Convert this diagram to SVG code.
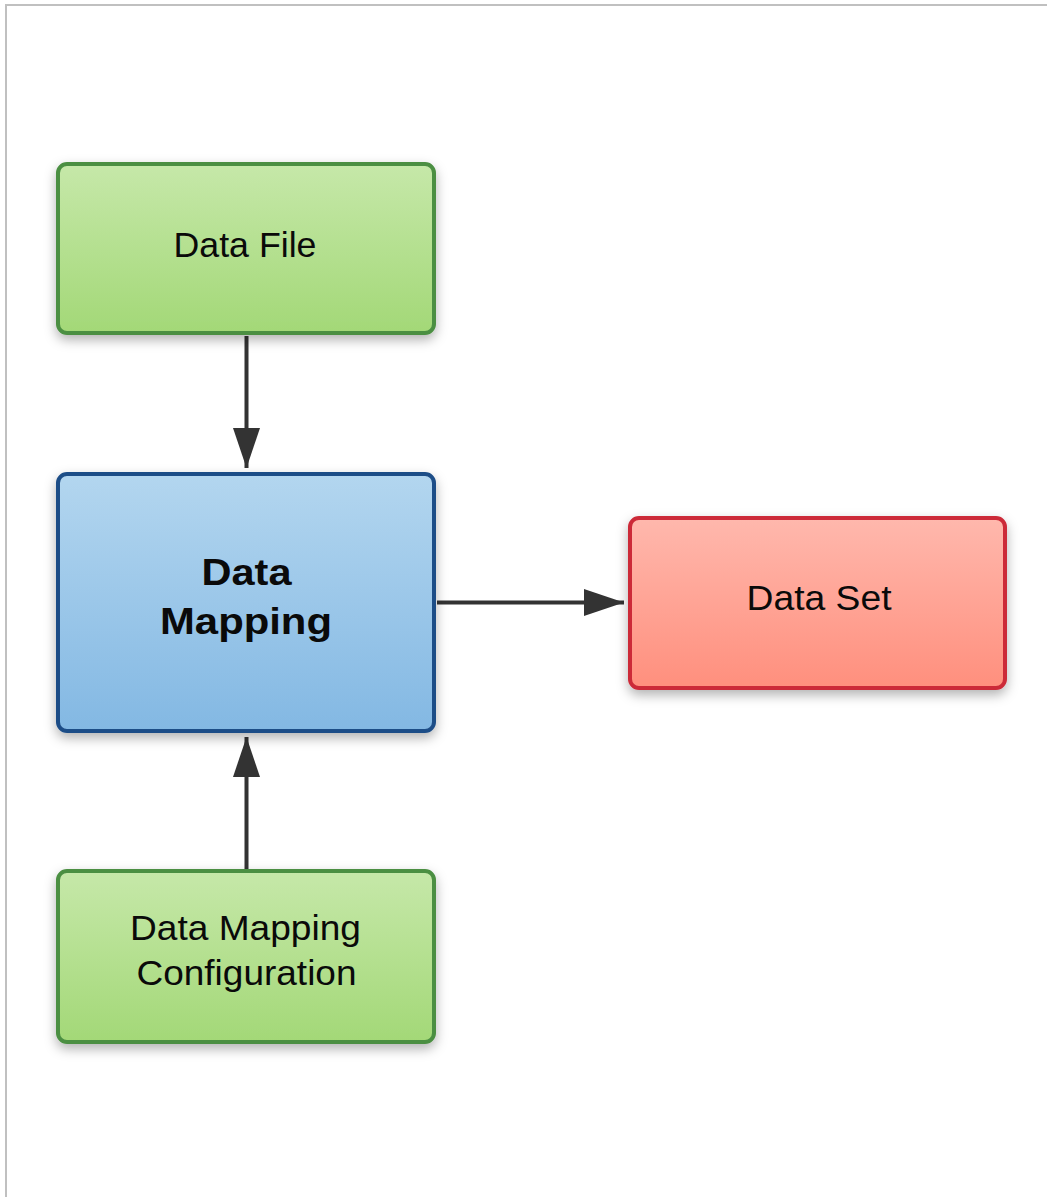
<svg xmlns="http://www.w3.org/2000/svg" width="1047" height="1197" viewBox="0 0 1047 1197">
  <defs>
    <linearGradient id="gradGreen" x1="0" y1="0" x2="0" y2="1">
      <stop offset="0" stop-color="#c6e8a9"/>
      <stop offset="1" stop-color="#a3d877"/>
    </linearGradient>
    <linearGradient id="gradBlue" x1="0" y1="0" x2="0" y2="1">
      <stop offset="0" stop-color="#b3d6ef"/>
      <stop offset="1" stop-color="#83b8e3"/>
    </linearGradient>
    <linearGradient id="gradRed" x1="0" y1="0" x2="0" y2="1">
      <stop offset="0" stop-color="#ffb8ad"/>
      <stop offset="1" stop-color="#ff8f7d"/>
    </linearGradient>
    <filter id="shadow" x="-10%" y="-10%" width="120%" height="130%">
      <feDropShadow dx="0" dy="5" stdDeviation="6" flood-color="#000" flood-opacity="0.3"/>
    </filter>
    <marker id="arrow" viewBox="0 0 40 27" refX="40" refY="13.5" markerWidth="40" markerHeight="27" markerUnits="userSpaceOnUse" orient="auto">
      <path d="M0,0 L40,13.5 L0,27 Z" fill="#333333"/>
    </marker>
    <style>
      .box { stroke-width: 4; filter: url(#shadow); }
      .green { fill: url(#gradGreen); stroke: #4b8f42; }
      .blue { fill: url(#gradBlue); stroke: #1f4d87; }
      .red { fill: url(#gradRed); stroke: #cc2b38; }
      .label { font-family: "Liberation Sans", Arial, sans-serif; font-size: 35px; fill: #0a0a0a; text-anchor: middle; }
      .bold { font-weight: bold; font-size: 36px; }
      .edge { stroke: #333333; stroke-width: 4; fill: none; marker-end: url(#arrow); }
    </style>
  </defs>

  <rect width="1047" height="1197" fill="#ffffff"/>
  <!-- page frame -->
  <path d="M6,1197 L6,5 L1047,5" fill="none" stroke="#c0c0c0" stroke-width="2"/>

  <!-- connectors -->
  <g id="connectors">
    <line class="edge" x1="246.5" y1="336" x2="246.5" y2="468"/>
    <line class="edge" x1="246.5" y1="869" x2="246.5" y2="737"/>
    <line class="edge" x1="437" y1="602.5" x2="624" y2="602.5"/>
  </g>

  <g id="node-data-file">
    <rect class="box green" x="58" y="164" width="376" height="169" rx="9"/>
    <text class="label" x="245" y="256.5" textLength="143" lengthAdjust="spacingAndGlyphs">Data File</text>
  </g>

  <g id="node-data-mapping">
    <rect class="box blue" x="58" y="474" width="376" height="257" rx="9"/>
    <text class="label bold" x="246.5" y="585" textLength="90" lengthAdjust="spacingAndGlyphs">Data</text>
    <text class="label bold" x="246" y="633.5" textLength="172" lengthAdjust="spacingAndGlyphs">Mapping</text>
  </g>

  <g id="node-data-set">
    <rect class="box red" x="630" y="518" width="375" height="170" rx="9"/>
    <text class="label" x="819" y="610" textLength="145" lengthAdjust="spacingAndGlyphs">Data Set</text>
  </g>

  <g id="node-mapping-config">
    <rect class="box green" x="58" y="871" width="376" height="171" rx="9"/>
    <text class="label" x="245.5" y="940" textLength="231" lengthAdjust="spacingAndGlyphs">Data Mapping</text>
    <text class="label" x="246.5" y="985" textLength="220" lengthAdjust="spacingAndGlyphs">Configuration</text>
  </g>
</svg>
